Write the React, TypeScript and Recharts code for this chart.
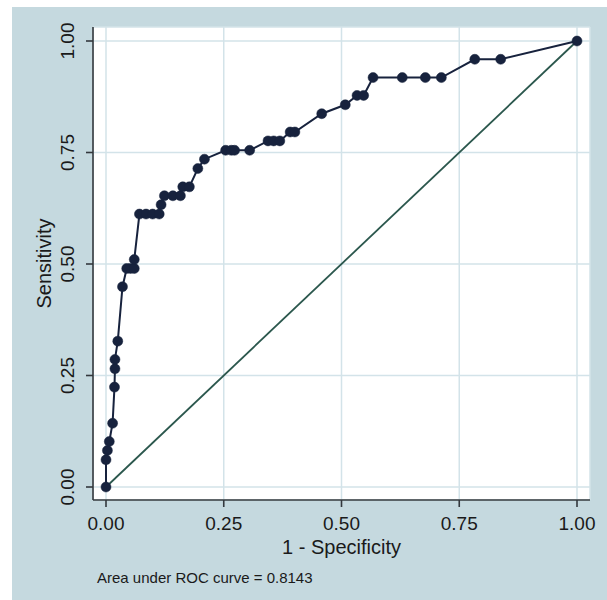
import { LineChart, Line, XAxis, YAxis, CartesianGrid, Label } from 'recharts'

// ROC points (1 - specificity, sensitivity)
const fpr = [
  0, 0, 0.003, 0.007, 0.014, 0.018, 0.019, 0.019, 0.025, 0.035,
  0.044, 0.052, 0.06, 0.06, 0.071, 0.085, 0.099, 0.113, 0.117, 0.124,
  0.142, 0.158, 0.163, 0.177, 0.195, 0.209, 0.254, 0.266, 0.273, 0.305,
  0.344, 0.356, 0.369, 0.391, 0.401, 0.458, 0.508, 0.533, 0.547, 0.567,
  0.629, 0.678, 0.712, 0.783, 0.838, 1,
]
const sens = [
  0, 0.061, 0.082, 0.102, 0.143, 0.224, 0.265, 0.286, 0.327, 0.449,
  0.49, 0.49, 0.49, 0.51, 0.612, 0.612, 0.612, 0.612, 0.633, 0.653,
  0.653, 0.653, 0.673, 0.673, 0.714, 0.735, 0.755, 0.755, 0.755, 0.755,
  0.776, 0.776, 0.776, 0.796, 0.796, 0.837, 0.857, 0.878, 0.878, 0.918,
  0.918, 0.918, 0.918, 0.959, 0.959, 1,
]
const diagX = [0, 1]
const diagY = [0, 1]
const ticks = [0, 0.25, 0.5, 0.75, 1]
const xTitle = '1 - Specificity'
const yTitle = 'Sensitivity'
const note = 'Area under ROC curve = 0.8143'

const rocData = fpr.map((x, i) => ({ x, y: sens[i] }))
const diagData = diagX.map((x, i) => ({ x, y: diagY[i] }))

const font = '"Liberation Sans", Arial, Helvetica, sans-serif'
const ink = '#17223d'
const axisInk = '#33383d'
const text = '#1a1a1a'

function YTick(props: any) {
  const { x, y, payload } = props
  const cx = x - 12
  return (
    <text
      x={cx}
      y={y}
      transform={`rotate(-90, ${cx}, ${y})`}
      textAnchor="middle"
      fontSize={19}
      fontFamily={font}
      fill={text}
    >
      {payload.value.toFixed(2)}
    </text>
  )
}

export default function App() {
  return (
    <div style={{ position: 'absolute', left: 0, top: 0, width: 607, height: 600, background: '#fff' }}>
      <div style={{ position: 'absolute', left: 12, top: 7, width: 595, height: 593, background: '#c5d9df' }}>
        <LineChart width={595} height={593} margin={{ top: 20, right: 17, bottom: 40, left: 21 }}>
          <CartesianGrid fill="#ffffff" stroke="#d3e3e9" strokeWidth={1.5} />
          <XAxis
            type="number"
            dataKey="x"
            domain={[0, 1]}
            ticks={ticks}
            interval={0}
            tickFormatter={(v: number) => v.toFixed(2)}
            padding={{ left: 13, right: 13 }}
            height={60}
            tickSize={7}
            tickMargin={10}
            axisLine={{ stroke: axisInk, strokeWidth: 1.6 }}
            tickLine={{ stroke: axisInk, strokeWidth: 1.6 }}
            tick={{ fontSize: 19, fill: text, fontFamily: font }}
          >
            <Label
              content={({ viewBox }: any) => (
                <g fontFamily={font} fill={text}>
                  <text x={viewBox.x + viewBox.width / 2} y={viewBox.y + 54} textAnchor="middle" fontSize={20}>
                    {xTitle}
                  </text>
                  <text x={viewBox.x + 4} y={viewBox.y + 83} fontSize={15}>
                    {note}
                  </text>
                </g>
              )}
            />
          </XAxis>
          <YAxis
            type="number"
            dataKey="y"
            domain={[0, 1]}
            ticks={ticks}
            interval={0}
            padding={{ top: 14, bottom: 13 }}
            width={60}
            tickSize={7}
            tickMargin={0}
            axisLine={{ stroke: axisInk, strokeWidth: 1.6 }}
            tickLine={{ stroke: axisInk, strokeWidth: 1.6 }}
            tick={<YTick />}
          >
            <Label
              content={({ viewBox }: any) => {
                const cx = viewBox.x + 18
                const cy = viewBox.y + viewBox.height / 2
                return (
                  <text
                    x={cx}
                    y={cy}
                    transform={`rotate(-90, ${cx}, ${cy})`}
                    textAnchor="middle"
                    fontSize={20}
                    fontFamily={font}
                    fill={text}
                  >
                    {yTitle}
                  </text>
                )
              }}
            />
          </YAxis>
          <Line
            data={diagData}
            dataKey="y"
            type="linear"
            stroke="#2b574d"
            strokeWidth={1.8}
            dot={false}
            activeDot={false}
            isAnimationActive={false}
          />
          <Line
            data={rocData}
            dataKey="y"
            type="linear"
            stroke={ink}
            strokeWidth={2}
            dot={{ r: 5, fill: ink, stroke: ink, strokeWidth: 0.5 }}
            activeDot={false}
            isAnimationActive={false}
          />
        </LineChart>
      </div>
    </div>
  )
}
